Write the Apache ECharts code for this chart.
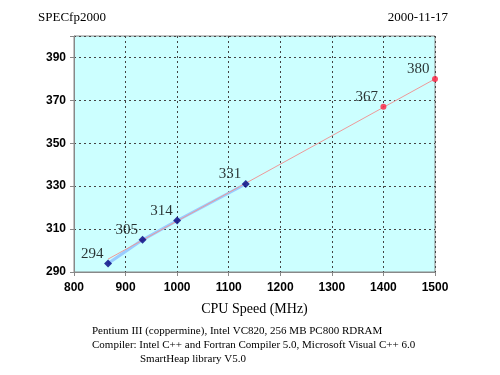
<!DOCTYPE html>
<html><head><meta charset="utf-8">
<script src="https://cdn.jsdelivr.net/npm/echarts@6/dist/echarts.min.js"></script>
<style>html,body{margin:0;padding:0;background:#fff}#c{width:500px;height:375px}</style>
</head><body><div id="c"></div>
<script>
var measuredMHz = [866, 933, 1000, 1133];
var measuredScores = [294, 305, 314, 331];
var projectedMHz = [1400, 1500];
var projectedScores = [367, 380];
var trendMHz = [866, 1500];
var trendScores = [296, 380];
var xTicks = [800, 900, 1000, 1100, 1200, 1300, 1400, 1500];
var yTicks = [290, 310, 330, 350, 370, 390];
var titleText = 'SPECfp2000';
var dateText = '2000-11-17';
var xTitle = 'CPU Speed (MHz)';
var notes = ['Pentium III (coppermine), Intel VC820, 256 MB PC800 RDRAM',
             'Compiler: Intel C++ and Fortran Compiler 5.0, Microsoft Visual C++ 6.0',
             'SmartHeap library V5.0'];

function zip(a, b) { return a.map(function (v, i) { return [v, b[i]]; }); }
var serif = '"Liberation Serif", "Times New Roman", serif';
var sans = '"Liberation Sans", Arial, sans-serif';
function labelStyle(off) { return { show: true, position: off, color: '#000', fontFamily: serif, fontSize: 15 }; }

var chart = echarts.init(document.getElementById('c'), null, { renderer: 'canvas' });
chart.setOption({
  animation: false,
  backgroundColor: '#fff',
  graphic: [
    { type: 'text', left: 38, top: 11, style: { text: titleText, font: '13px ' + serif, fill: '#000' } },
    { type: 'text', right: 52, top: 11, style: { text: dateText, font: '13px ' + serif, fill: '#000' } },
    { type: 'text', left: 92, top: 326, style: { text: notes[0], font: '11px ' + serif, fill: '#000' } },
    { type: 'text', left: 92, top: 340, style: { text: notes[1], font: '11px ' + serif, fill: '#000' } },
    { type: 'text', left: 140, top: 354, style: { text: notes[2], font: '11px ' + serif, fill: '#000' } }
  ],
  grid: { left: 74, top: 36, right: 65, bottom: 103, show: true, backgroundColor: '#ccffff', borderColor: '#888', borderWidth: 1 },
  xAxis: {
    type: 'value', min: xTicks[0], max: xTicks[xTicks.length - 1], interval: 100,
    name: xTitle, nameLocation: 'middle', nameGap: 30,
    nameTextStyle: { fontFamily: serif, fontSize: 14, color: '#000' },
    axisLine: { show: true, onZero: false, lineStyle: { color: '#888' } },
    axisTick: { show: true, length: 4, lineStyle: { color: '#888' } },
    axisLabel: { fontFamily: sans, fontWeight: 'bold', fontSize: 12, color: '#000', margin: 10,
      formatter: function (v) { return String(v); } },
    splitLine: { show: true, lineStyle: { color: '#444', type: [2, 3], width: 1 } }
  },
  yAxis: {
    type: 'value', min: 290, max: 400, interval: 20,
    axisLine: { show: true, onZero: false, lineStyle: { color: '#888' } },
    axisTick: { show: true, length: 4, lineStyle: { color: '#888' } },
    axisLabel: { fontFamily: sans, fontWeight: 'bold', fontSize: 12, color: '#000', margin: 8,
      formatter: function (v) { return yTicks.indexOf(v) >= 0 ? String(v) : ''; } },
    splitLine: { show: true, lineStyle: { color: '#444', type: [2, 3], width: 1 } }
  },
  series: [
    { type: 'line', data: zip(measuredMHz, measuredScores), symbol: 'none',
      lineStyle: { color: '#99ccff', width: 3 }, z: 2, silent: true },
    { type: 'line', data: zip(trendMHz, trendScores), symbol: 'none',
      lineStyle: { color: '#ee9999', width: 1 }, z: 3, silent: true },
    { type: 'scatter', data: zip(measuredMHz, measuredScores), symbol: 'diamond', symbolSize: 8,
      itemStyle: { color: '#000080' }, label: labelStyle([-23, -13]), z: 4 },
    { type: 'scatter', data: zip(projectedMHz, projectedScores), symbol: 'circle', symbolSize: 6,
      itemStyle: { color: '#ff2040' }, label: labelStyle([-25, -14]), z: 4 }
  ]
});
</script></body></html>
